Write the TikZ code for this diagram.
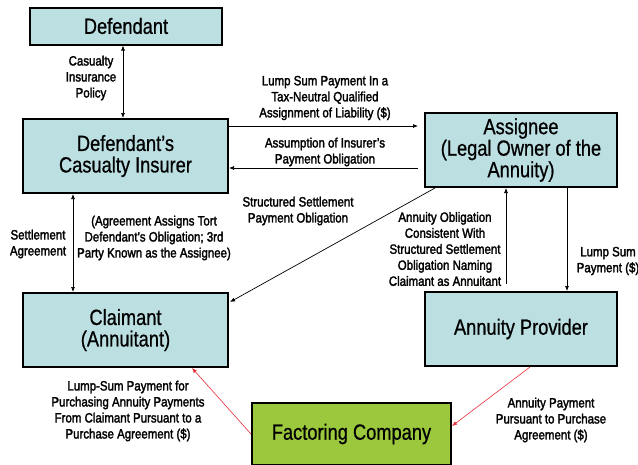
\documentclass[tikz,border=0pt]{standalone}
\usepackage{fontspec}
\setmainfont[FakeStretch=0.83,FakeBold=0.7]{Liberation Sans}
\newfontfamily\lblfont[FakeStretch=0.85,FakeBold=2]{Liberation Sans}
\usetikzlibrary{arrows.meta,calc}

\definecolor{boxteal}{HTML}{BCDFE2}
\definecolor{boxgreen}{HTML}{9BC83C}
\definecolor{flowred}{HTML}{E8303A}

\begin{document}
\begin{tikzpicture}[x=1pt,y=-1pt,
  party/.style={draw=black,line width=2pt,fill=boxteal,align=center,inner sep=0pt,
    font=\fontsize{22}{21.5}\selectfont},
  buyer/.style={party,fill=boxgreen},
  lbl/.style={align=center,inner sep=0pt,font=\lblfont\fontsize{13.5}{16}\selectfont},
  link/.style={line width=0.7pt,-{Latex[length=5pt,width=4pt]}},
  both/.style={link,{Latex[length=5pt,width=4pt]}-{Latex[length=5pt,width=4pt]}},
  money/.style={link,draw=flowred,color=flowred,line width=0.6pt}]
\useasboundingbox (0,0) rectangle (638,464);
\clip (0,0) rectangle (638,464);
\fill[white] (0,0) rectangle (638,464);

% parties
\node[party,minimum width=192pt,minimum height=37pt] (def) at (126,26) {Defendant};
\node[party,minimum width=205pt,minimum height=74pt] (ins) at (125.5,156) {Defendant’s\\Casualty Insurer};
\node[party,minimum width=192pt,minimum height=74pt] (asg) at (521,150) {Assignee\\(Legal Owner of the\\Annuity)};
\node[party,minimum width=205pt,minimum height=74pt] (cla) at (125.5,330) {Claimant\\(Annuitant)};
\node[party,minimum width=192pt,minimum height=74pt] (ann) at (521,329) {Annuity Provider};
\node[buyer,minimum width=199pt,minimum height=62pt] (fac) at (351.5,434) {Factoring Company};

% obligations and payments
\draw[both] ($(def.south)+(-3,0)$) -- ($(ins.north)+(-2.5,0)$);
\draw[link,shorten >=6pt] ($(ins.east)+(0,-30)$) -- ($(asg.west)+(0,-24)$);
\draw[link,shorten <=6pt] ($(asg.west)+(0,18)$) -- ($(ins.east)+(0,12)$);
\draw[link] ($(asg.south west)+(11,0)$) -- ($(cla.north east)+(1,10)$);
\draw[both] ($(ins.south)+(-52.5,0)$) -- ($(cla.north)+(-52.5,0)$);
\coordinate (obl) at ($(ann.north)+(-15,-7)$);
\draw[link] (obl) -- (obl |- asg.south);
\draw[link] ($(asg.south)+(46,0)$) -- ($(ann.north)+(46,0)$);
\draw[money] (fac.west) -- ($(cla.south)+(66.5,0)$);
\draw[money] ($(ann.south)+(9,0)$) -- ($(fac.east)+(0,-8)$);

% labels
\node[lbl] (l1) at (91,78) {Casualty\\Insurance\\Policy};
\node[lbl] (l2) at (325,98) {Lump Sum Payment In a\\Tax-Neutral Qualified\\Assignment of Liability (\$)};
\node[lbl] (l3) at (325,152) {Assumption of Insurer’s\\Payment Obligation};
\node[lbl] (l4) at (298,211) {Structured Settlement\\Payment Obligation};
\node[lbl] (l5) at (154,238) {(Agreement Assigns Tort\\Defendant’s Obligation; 3rd\\Party Known as the Assignee)};
\node[lbl] (l6) at (38,244) {Settlement\\Agreement};
\node[lbl] (l7) at (445,249) {Annuity Obligation\\Consistent With\\Structured Settlement\\Obligation Naming\\Claimant as Annuitant};
\node[lbl] (l8) at (608,261) {Lump Sum\\Payment (\$)};
\node[lbl] (l9) at (128,411) {Lump-Sum Payment for\\Purchasing Annuity Payments\\From Claimant Pursuant to a\\Purchase Agreement (\$)};
\node[lbl] (l10) at (551,420) {Annuity Payment\\Pursuant to Purchase\\Agreement (\$)};
\end{tikzpicture}
\end{document}
